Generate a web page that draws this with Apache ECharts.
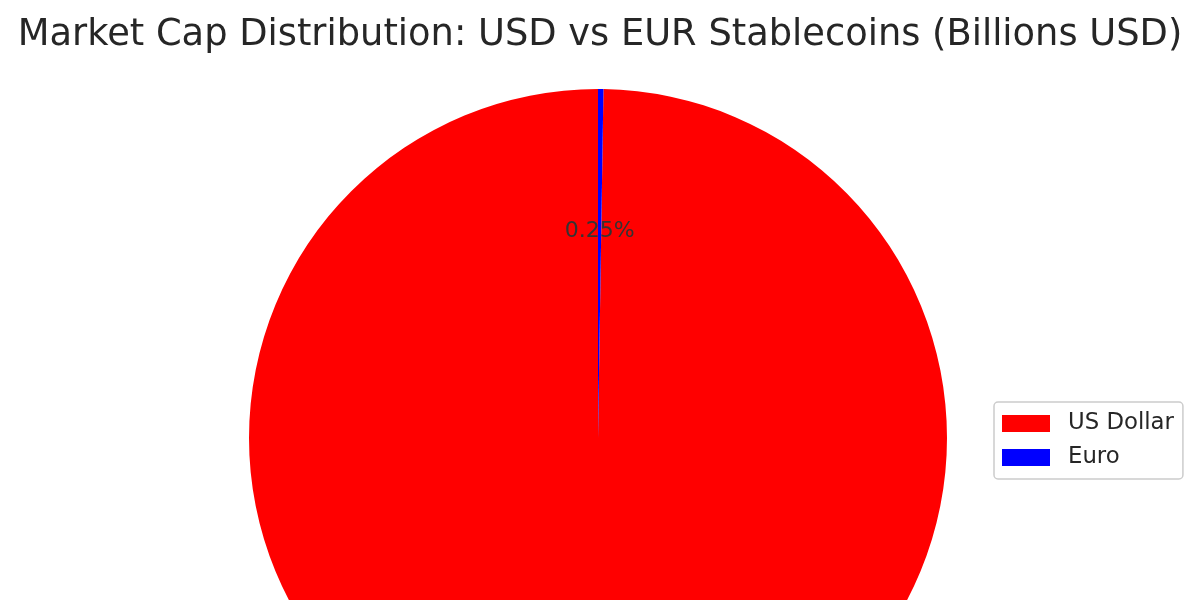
<!DOCTYPE html>
<html>
<head>
<meta charset="utf-8">
<script src="https://cdn.jsdelivr.net/npm/echarts@6/dist/echarts.min.js"></script>
<style>html,body{margin:0;padding:0;background:#fff}#c{width:1200px;height:600px}</style>
</head>
<body>
<div id="c"></div>
<script>
const categories = ['US Dollar', 'Euro'];
const marketCaps = [160.0, 0.4];
const colors = ['#ff0000', '#0000ff'];
const titleText = 'Market Cap Distribution: USD vs EUR Stablecoins (Billions USD)';

const pieData = categories.map((c, i) => ({ name: c, value: marketCaps[i], itemStyle: { color: colors[i] } }));
const labelData = categories.map((c, i) => ({ name: c, value: marketCaps[i] }));
const FONT = 'DejaVu Sans';
const chart = echarts.init(document.getElementById('c'));
chart.setOption({
  animation: false,
  backgroundColor: '#fff',
  title: {
    text: titleText, left: 'center', top: 12,
    textStyle: { fontFamily: FONT, fontSize: 36.8, fontWeight: 'normal', color: '#262626' }
  },
  legend: {
    data: categories,
    orient: 'vertical',
    left: 994, top: 402,
    itemWidth: 48, itemHeight: 17, itemGap: 11,
    icon: 'rect',
    padding: [10, 9, 10, 8],
    borderColor: '#cccccc', borderWidth: 1.5, borderRadius: 4,
    backgroundColor: 'rgba(255,255,255,0.8)',
    textStyle: { fontFamily: FONT, fontSize: 22.8, color: '#262626', padding: [0, 0, 0, 13] }
  },
  series: [
    {
      type: 'pie', center: [598, 438], radius: [0, 349],
      startAngle: 90, clockwise: false,
      label: { show: false }, labelLine: { show: false },
      emphasis: { disabled: true },
      data: pieData
    },
    {
      type: 'pie', center: [598, 438], radius: [58, 349],
      startAngle: 90, clockwise: false, silent: true,
      itemStyle: { color: 'rgba(0,0,0,0)' },
      label: {
        show: true, position: 'inside',
        fontFamily: FONT, fontSize: 22, color: '#333333',
        formatter: p => p.percent.toFixed(2) + '%'
      },
      labelLine: { show: false },
      emphasis: { disabled: true },
      data: labelData
    }
  ]
});
</script>
</body>
</html>
